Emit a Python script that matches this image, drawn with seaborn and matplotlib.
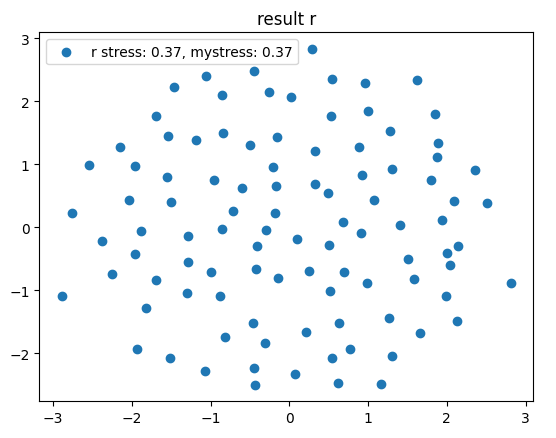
import matplotlib
matplotlib.use("Agg")
import matplotlib.pyplot as plt
import seaborn as sns
import pandas as pd

# point positions
x = [-1.065, -1.470, -1.689, -1.537, -1.183, -2.155, -2.548, -1.965, 0.292, -0.444,
     0.545, 0.959, -0.862, -0.257, 0.022, 0.532, 0.994, -0.840, -0.494, -0.152,
     0.330, 0.887, -0.207, 1.622, 1.850, 1.280, 1.888, 1.876, 1.305, 2.357,
     -1.550, -2.041, -1.508, -2.763, -1.888, -1.293, -2.374, -1.965, -1.293, -0.992,
     -2.256, -1.698, -2.890, -1.305, -0.954, -0.596, -0.165, 0.330, 0.490, 0.925,
     1.077, -0.710, -0.177, -0.862, -0.292, 0.684, 0.913, -0.406, 0.101, 0.507,
     -0.418, -0.139, 0.253, 0.697, 0.985, -0.875, 0.520, 1.800, 2.091, 2.506,
     1.407, 1.939, 2.142, 2.003, 1.508, 2.041, 1.584, 2.814, 1.990, -1.825,
     -1.930, -1.521, -1.077, -0.464, 0.634, -0.815, -0.304, 0.212, 0.773, 0.545,
     -0.444, 0.076, -0.431, 0.617, 1.267, 2.129, 1.656, 1.302, 1.166]
y = [2.405, 2.226, 1.761, 1.451, 1.392, 1.277, 0.981, 0.970, 2.828, 2.479,
     2.353, 2.290, 2.100, 2.147, 2.068, 1.767, 1.851, 1.498, 1.309, 1.435,
     1.214, 1.277, 0.960, 2.337, 1.804, 1.535, 1.340, 1.119, 0.929, 0.907,
     0.802, 0.438, 0.407, 0.233, -0.052, -0.131, -0.210, -0.416, -0.543, -0.717,
     -0.748, -0.843, -1.087, -1.049, 0.755, 0.628, 0.660, 0.680, 0.549, 0.823,
     0.438, 0.264, 0.233, -0.021, -0.047, 0.079, -0.095, -0.290, -0.190, -0.274,
     -0.665, -0.807, -0.701, -0.717, -0.891, -1.097, -1.017, 0.755, 0.422, 0.391,
     0.043, 0.122, -0.290, -0.400, -0.506, -0.606, -0.823, -0.891, -1.087, -1.286,
     -1.935, -2.078, -2.278, -1.524, -1.524, -1.745, -1.835, -1.661, -1.935, -2.078,
     -2.231, -2.331, -2.495, -2.473, -1.445, -1.487, -1.677, -2.046, -2.489]

df = pd.DataFrame({"x": x, "y": y})

fig, ax = plt.subplots(figsize=(5.56, 4.39), dpi=100)
fig.subplots_adjust(left=0.0709, right=0.9592, top=0.9241, bottom=0.0836)
sns.scatterplot(data=df, x="x", y="y", ax=ax, s=36, color="#1f77b4",
                edgecolor="#1f77b4", linewidth=1,
                label="r stress: 0.37, mystress: 0.37")
ax.set_xlabel("")
ax.set_ylabel("")
ax.set_title("result r")
ax.legend(loc="upper left")
plt.savefig("out.png")
